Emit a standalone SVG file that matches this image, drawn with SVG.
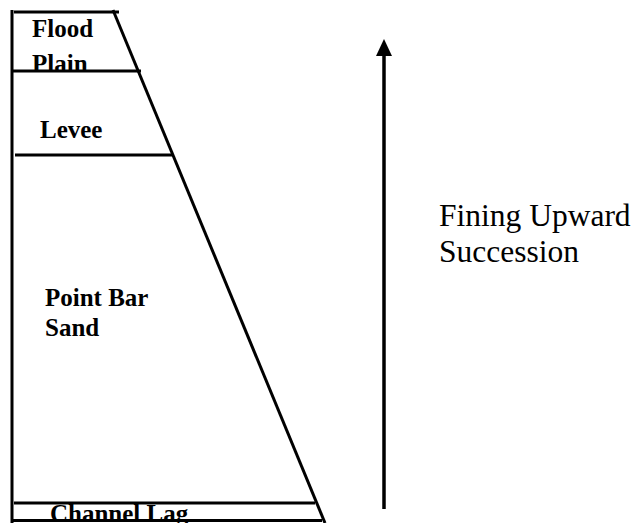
<svg xmlns="http://www.w3.org/2000/svg" width="636" height="523" viewBox="0 0 636 523">
<style>
.ln{stroke:#000;stroke-width:3;fill:none}
.lb{font-family:"Liberation Serif","Times New Roman",serif;font-weight:bold;font-size:25px;fill:#000}
.rg{font-family:"Liberation Serif","Times New Roman",serif;font-size:31.5px;fill:#000}
</style>
<rect width="636" height="523" fill="#fff"/>
<g id="connectors">
<line class="ln" x1="12" y1="10" x2="12" y2="523"/>
<line class="ln" x1="113" y1="10" x2="325" y2="523"/>
<line id="arrow" x1="384" y1="509" x2="384" y2="56" stroke="#000" stroke-width="3.5"/>
<path d="M376,56 L384,39 L392,56 Z" fill="#000"/>
</g>
<g id="flood-plain">
<line class="ln" x1="14" y1="12" x2="119" y2="12"/>
<text class="lb" x="32" y="37">Flood</text>
<text class="lb" x="32" y="72">Plain</text>
</g>
<g id="levee">
<line class="ln" x1="12" y1="71" x2="141" y2="71"/>
<text class="lb" x="40" y="138">Levee</text>
</g>
<g id="point-bar-sand">
<line class="ln" x1="15" y1="155" x2="172" y2="155"/>
<text class="lb" x="45" y="306">Point Bar</text>
<text class="lb" x="45" y="336">Sand</text>
</g>
<g id="channel-lag">
<line class="ln" x1="14" y1="503" x2="315" y2="503"/>
<line class="ln" x1="12" y1="520.5" x2="322" y2="520.5"/>
<text class="lb" x="50" y="522">Channel Lag</text>
</g>
<g id="succession-label">
<text class="rg" x="439" y="226">Fining Upward</text>
<text class="rg" x="439" y="262">Succession</text>
</g>
</svg>
